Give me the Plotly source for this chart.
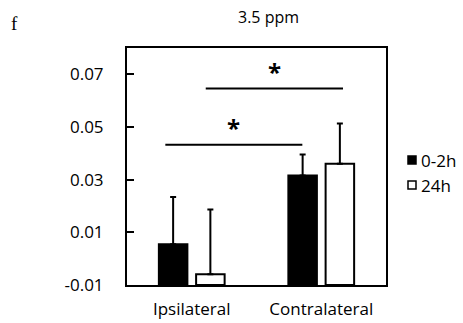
import plotly.graph_objects as go

categories = ["Ipsilateral", "Contralateral"]
series_names = ["0-2h", "24h"]
series_colors = ["black", "white"]
values_0_2h = [0.0055, 0.0316]
values_24h = [-0.0059, 0.0360]
err_0_2h = [0.0179, 0.0080]
err_24h = [0.0246, 0.0153]
y_ticks = [-0.01, 0.01, 0.03, 0.05, 0.07]
y_tick_labels = ["-0.01", "0.01", "0.03", "0.05", "0.07"]
title_text = "3.5 ppm"
panel_label = "f"
# significance brackets: (x start, x end, y level) in axis units
sig_brackets = [(-0.204, 0.854, 0.0433), (0.108, 1.168, 0.0646)]

FONT = "Open Sans"
BASE = -0.01
PW, PH = 259.0, 237.0  # plot area size in px

def px_x(p):
    return (p - 127) / PW

def px_y(p):
    return (285 - p) / PH

fig = go.Figure()
for name, color, vals, errs in [(series_names[0], series_colors[0], values_0_2h, err_0_2h),
                                (series_names[1], series_colors[1], values_24h, err_24h)]:
    fig.add_trace(go.Bar(
        x=categories, y=[v - BASE for v in vals], base=BASE, name=name,
        marker=dict(color=color, line=dict(color="black", width=2)),
        error_y=dict(type="data", array=errs, arrayminus=[0, 0], symmetric=False,
                     color="black", thickness=2, width=3),
        showlegend=False,
    ))

for x0, x1, yv in sig_brackets:
    fig.add_shape(type="line", xref="x", yref="y", x0=x0, x1=x1, y0=yv, y1=yv,
                  line=dict(color="black", width=2))
    fig.add_annotation(x=(x0 + x1) / 2, y=yv, xref="x", yref="y", text="<b>*</b>",
                       showarrow=False, yanchor="bottom", yshift=-1,
                       font=dict(family=FONT, size=24, color="black"))

# manual legend
for i, (name, color) in enumerate(zip(series_names, series_colors)):
    cy = 160 + 25 * i
    fig.add_shape(type="rect", xref="paper", yref="paper",
                  x0=px_x(408), x1=px_x(416), y0=px_y(cy + 4), y1=px_y(cy - 4),
                  fillcolor=color, line=dict(color="black", width=1.5))
    fig.add_annotation(text=name, xref="paper", yref="paper", x=px_x(419), y=px_y(cy),
                       xanchor="left", yanchor="middle", showarrow=False,
                       font=dict(family=FONT, size=17, color="black"))

fig.add_annotation(text=title_text, xref="paper", yref="paper", x=px_x(268), y=px_y(17),
                   xanchor="center", yanchor="middle", showarrow=False,
                   font=dict(family=FONT, size=16, color="black"))
fig.add_annotation(text=panel_label, xref="paper", yref="paper", x=px_x(14), y=px_y(24),
                   xanchor="center", yanchor="middle", showarrow=False,
                   font=dict(family="Liberation Serif", size=19, color="black"))

fig.update_layout(
    width=463, height=323,
    margin=dict(l=127, r=77, t=48, b=38, autoexpand=False),
    paper_bgcolor="white", plot_bgcolor="white",
    barmode="group", bargap=0.425, bargroupgap=0.234,
    showlegend=False,
    font=dict(family=FONT, size=17, color="black"),
)
fig.update_xaxes(showline=True, linecolor="black", linewidth=2, mirror=True,
                 ticks="", showgrid=False, tickfont=dict(size=17), ticklabelstandoff=8)
fig.update_yaxes(range=[-0.01, 0.08], showline=True, linecolor="black", linewidth=2,
                 mirror=True, ticks="inside", ticklen=7, tickwidth=2, tickcolor="black",
                 tickvals=y_ticks, ticktext=y_tick_labels, showgrid=False,
                 zeroline=False, tickfont=dict(size=17), ticklabelstandoff=18)

fig.write_html("out.html")
